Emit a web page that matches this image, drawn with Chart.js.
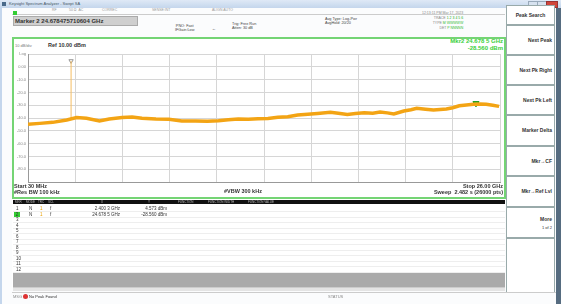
<!DOCTYPE html>
<html>
<head>
<meta charset="utf-8">
<script src="https://cdn.jsdelivr.net/npm/chart.js@4.4.1/dist/chart.umd.min.js"></script>
<style>
body{margin:0;width:561px;height:304px;overflow:hidden;background:#fbfcfd;position:relative;font-family:"Liberation Sans",Arial,sans-serif;color:#222}
.a{position:absolute;white-space:nowrap;line-height:1}
.b{font-weight:bold}
.sk{position:absolute;left:506px;width:49px;background:#fff;border:1px solid #9aa;box-sizing:border-box;font-size:5px;font-weight:bold;text-align:right;padding-right:2px;color:#333}
.row{position:absolute;left:13px;width:492px;height:5px;border-bottom:1px solid #eee;font-size:4.5px;line-height:5px;color:#333}
</style>
</head>
<body>
<!-- window chrome -->
<div class="a" style="left:0;top:0;width:561px;height:8px;background:linear-gradient(#dfe9f6,#c4d6ec)"></div>
<div class="a" style="left:2px;top:2px;width:4px;height:4px;background:#4a6a8a"></div>
<div class="a" style="left:9px;top:2px;font-size:4px;color:#456">Keysight Spectrum Analyzer - Swept SA</div>
<div class="a" style="left:528px;top:1px;width:8px;height:5px;background:#d7e2ef;border:1px solid #9ab"></div>
<div class="a" style="left:537px;top:1px;width:8px;height:5px;background:#d7e2ef;border:1px solid #9ab"></div>
<div class="a" style="left:546px;top:1px;width:10px;height:5px;background:#d0453a;border:1px solid #933"></div>
<div class="a" style="left:0;top:8px;width:2px;height:296px;background:#c4d6ec"></div>
<div class="a" style="left:556px;top:8px;width:5px;height:296px;background:#566c80"></div>

<!-- toolbar row -->
<div class="a" style="left:12px;top:9px;width:493px;height:5px;border-bottom:1px solid #ccc;font-size:3.5px;color:#999">
  <span style="position:absolute;left:40px">RF</span>
  <span style="position:absolute;left:57px">50 Ω&nbsp; AC</span>
  <span style="position:absolute;left:90px">CORREC</span>
  <span style="position:absolute;left:140px">SENSE:INT</span>
  <span style="position:absolute;left:200px">ALIGN AUTO</span>
</div>
<div class="a" style="left:13px;top:11px;width:4px;height:4px;background:#3c3"></div>
<div class="a b" style="left:13px;top:16px;width:122px;height:8px;background:#cfcfcf;border:1px solid #aaa;font-size:6px;line-height:8px;padding-left:1px;color:#333">Marker 2 24.678475710604 GHz</div>

<div class="a" style="left:175px;top:25px;font-size:3.8px;color:#444;text-align:center">PNO: Fast<br>IFGain:Low</div>
<div class="a" style="left:212px;top:27px;font-size:4px;color:#444">&larr;</div>
<div class="a" style="left:232px;top:23px;font-size:3.8px;color:#444">Trig: Free Run<br>Atten: 30 dB</div>
<div class="a" style="left:325px;top:18px;font-size:3.8px;color:#444">Avg Type: Log-Pwr<br>AvgHold: 20/20</div>
<div class="a" style="left:422px;top:11px;font-size:3.5px;color:#888;line-height:1.45;text-align:right">12:13:11 PM Mar 17, 2023<br>TRACE <span style="color:#2a2">1 2 3 4 5 6</span><br>TYPE <span style="color:#3b3">M WWWWW</span><br>DET <span style="color:#3b3">P NNNNN</span></div>

<!-- softkeys -->
<div class="sk" style="top:5px;height:20px;line-height:18px;text-align:center;padding:0">Peak Search</div>
<div class="sk" style="top:25px;height:30px;line-height:28px">Next Peak</div>
<div class="sk" style="top:55px;height:30px;line-height:28px">Next Pk Right</div>
<div class="sk" style="top:85px;height:30px;line-height:28px">Next Pk Left</div>
<div class="sk" style="top:115px;height:31px;line-height:29px">Marker Delta</div>
<div class="sk" style="top:146px;height:30px;line-height:28px">Mkr&rarr;CF</div>
<div class="sk" style="top:176px;height:31px;line-height:29px">Mkr&rarr;Ref Lvl</div>
<div class="sk" style="top:207px;height:31px;padding-top:8px;line-height:1.5">More<br><span style="font-weight:normal;font-size:4px">1 of 2</span></div>
<div class="sk" style="top:238px;height:55px"></div>

<!-- graph frame -->
<div class="a" style="left:12px;top:37px;width:490px;height:158px;border:2px solid #74d474;background:#fff"></div>
<div class="a" style="left:15px;top:44px;font-size:4px;color:#777">10 dB/div</div>
<div class="a b" style="left:48px;top:43px;font-size:5.5px;color:#333">Ref 10.00 dBm</div>
<div class="a b" style="right:58px;top:38px;font-size:6px;color:#3ad03a;text-align:right;line-height:1.2">Mkr2 24.678 5 GHz<br>-28.560 dBm</div>
<canvas id="c" width="492" height="160" style="position:absolute;left:13px;top:38px"></canvas>
<div class="a b" style="left:14px;top:183px;font-size:5.5px;color:#333;line-height:1.15">Start 30 MHz<br>#Res BW 100 kHz</div>
<div class="a b" style="left:224px;top:189px;font-size:5.5px;color:#333">#VBW 300 kHz</div>
<div class="a b" style="right:58px;top:183px;font-size:5.5px;color:#333;text-align:right;line-height:1.15">Stop 26.00 GHz<br>Sweep&nbsp; 2.482 s (26000 pts)</div>

<!-- marker table -->
<div class="a" style="left:12px;top:199px;width:493px;height:89px;background:#fff"></div>
<div class="a" style="left:13px;top:200px;width:492px;height:4px;background:#111;font-size:3px;color:#bbb;line-height:4px">
  <span style="position:absolute;left:2px">MKR</span><span style="position:absolute;left:13px">MODE</span><span style="position:absolute;left:25px">TRC</span><span style="position:absolute;left:35px">SCL</span>
  <span style="position:absolute;left:88px">X</span><span style="position:absolute;left:135px">Y</span>
  <span style="position:absolute;left:165px">FUNCTION</span><span style="position:absolute;left:195px">FUNCTION WIDTH</span><span style="position:absolute;left:235px">FUNCTION VALUE</span>
</div>
<div id="tbl"></div>
<div class="a" style="left:13px;top:273px;width:492px;height:14px;background:#aaa"></div>
<div class="a" style="left:13px;top:287px;width:492px;height:3px;background:#e4e4e4;border-top:1px solid #ccc"></div>
<div class="a" style="left:12px;top:292px;width:544px;height:8px;border-top:1px solid #ccc;font-size:4px;color:#888">
  <span style="position:absolute;left:1px;top:2px">MSG</span>
  <span style="position:absolute;left:11px;top:1px;width:5px;height:5px;border-radius:50%;background:#d33"></span>
  <span style="position:absolute;left:17px;top:2px;color:#333">No Peak Found</span>
  <span style="position:absolute;left:316px;top:2px">STATUS</span>
</div>

<script>
// trace 1 (GHz, dBm)
const freqGHz = [0.03, 0.68, 1.39, 2.16, 2.70, 3.25, 3.96, 4.50, 5.21, 5.76, 6.30, 7.07, 7.78, 8.49,
  9.25, 9.90, 10.51, 11.05, 11.60, 12.15, 12.69, 13.23, 13.78, 14.32, 14.87, 15.42, 15.96, 16.67,
  17.10, 17.60, 18.05, 18.53, 19.00, 19.40, 19.80, 20.16, 20.71, 21.10, 21.42, 21.90, 22.34, 22.70,
  23.05, 23.40, 23.76, 24.15, 24.53, 24.90, 25.24, 25.60, 25.95];
const traceDbm = [-44.9, -44.2, -43.4, -41.6, -39.7, -40.2, -42.3, -40.8, -39.7, -39.2, -40.2, -40.8, -41.0, -42.3,
  -42.3, -42.6, -42.1, -41.4, -40.8, -40.9, -40.5, -40.3, -39.5, -39.0, -37.7, -37.0, -36.4, -35.6,
  -36.3, -37.2, -36.5, -35.9, -36.2, -35.3, -36.0, -36.9, -34.5, -33.6, -32.4, -33.2, -33.8, -33.4,
  -33.0, -32.0, -30.4, -29.9, -29.3, -29.0, -29.3, -30.0, -30.9];

// markers
const markerNum = ['1', '2'];
const markerFreqGHz = [2.4003, 24.6785];
const markerDbm = [4.573, -28.560];
const markerFreqText = ['2.400 3 GHz', '24.678 5 GHz'];
const markerAmpText = ['4.573 dBm', '-28.560 dBm'];

// axes
const startGHz = 0.03;
const stopGHz = 26.0;
const refLevel = 10;
const dbPerDiv = 10;
const yTickLabels = ['Log', '0.00', '-10.0', '-20.0', '-30.0', '-40.0', '-50.0', '-60.0', '-70.0', '-80.0', ''];

// marker table rows
let html = '';
for (let i = 0; i < 12; i++) {
  const top = 206 + i * 5.5;
  let cells = '<span style="position:absolute;left:' + (i === 1 ? 1 : 3) + 'px;' + (i === 1 ? 'background:#3c3;width:6px;text-align:center;' : '') + '">' + (i + 1) + '</span>';
  if (i < markerNum.length) {
    cells += '<span style="position:absolute;left:16px">N</span><span style="position:absolute;left:27px;color:#e9a000">1</span><span style="position:absolute;left:37px">f</span>';
    cells += '<span style="position:absolute;right:385px">' + markerFreqText[i] + '</span>';
    cells += '<span style="position:absolute;right:338px">' + markerAmpText[i] + '</span>';
  }
  html += '<div class="row" style="top:' + top + 'px">' + cells + '</div>';
}
document.getElementById('tbl').innerHTML = html;

const trace = freqGHz.map((f, i) => ({ x: f, y: traceDbm[i] }));
// marker 1 sits on a narrow spike at 2.4 GHz
const spike = [{ x: markerFreqGHz[0], y: -40.5 }, { x: markerFreqGHz[0], y: markerDbm[0] }];

new Chart(document.getElementById('c'), {
  type: 'line',
  data: {
    datasets: [
      {
        data: trace,
        borderColor: '#f3a414',
        borderWidth: 3.5,
        pointRadius: 0,
        tension: 0
      },
      {
        data: spike,
        borderColor: '#f5bd62',
        borderWidth: 1,
        pointRadius: 0
      },
      {
        type: 'scatter',
        data: [{ x: markerFreqGHz[1], y: markerDbm[1] }],
        pointStyle: 'triangle',
        rotation: 180,
        radius: 3.5,
        backgroundColor: '#2fbf2f',
        borderColor: '#1a9a1a',
        borderWidth: 1
      },
      {
        type: 'scatter',
        data: [{ x: markerFreqGHz[0], y: markerDbm[0] }],
        pointStyle: 'triangle',
        rotation: 180,
        radius: 2.5,
        backgroundColor: '#fff',
        borderColor: '#999',
        borderWidth: 1
      }
    ]
  },
  options: {
    responsive: false,
    animation: false,
    events: [],
    layout: { padding: { left: 0, top: 16, right: 1, bottom: 16 } },
    plugins: { legend: { display: false }, tooltip: { enabled: false } },
    scales: {
      x: {
        type: 'linear',
        min: startGHz,
        max: stopGHz,
        afterBuildTicks: s => {
          s.ticks = [];
          for (let i = 0; i <= 10; i++) s.ticks.push({ value: startGHz + i * (stopGHz - startGHz) / 10 });
        },
        ticks: { display: false },
        grid: { color: '#d6d6d6', drawTicks: false },
        border: { color: '#999' }
      },
      y: {
        min: refLevel - 10 * dbPerDiv,
        max: refLevel,
        afterFit: s => { s.width = 15; },
        ticks: {
          stepSize: dbPerDiv,
          padding: 2,
          color: '#888',
          font: { size: 4, family: 'Liberation Sans' },
          callback: v => yTickLabels[Math.round((refLevel - v) / dbPerDiv)]
        },
        grid: { color: '#d6d6d6', drawTicks: false },
        border: { color: '#999' }
      }
    }
  }
});
</script>
</body>
</html>
